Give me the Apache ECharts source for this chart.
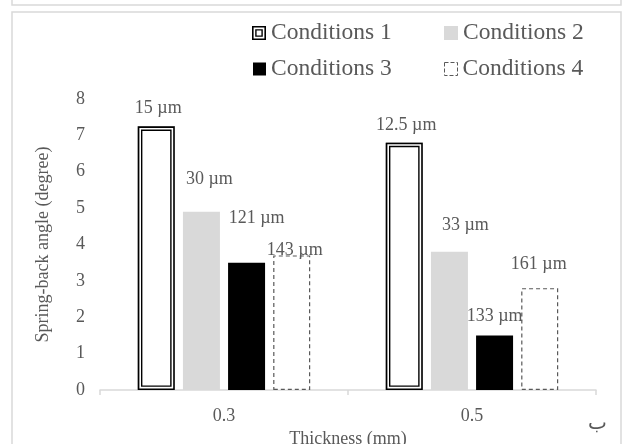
<!DOCTYPE html>
<html>
<head>
<meta charset="utf-8">
<script src="https://cdn.jsdelivr.net/npm/echarts@6/dist/echarts.min.js"></script>
<style>
html,body{margin:0;padding:0;background:#fff;}
#chart{width:624px;height:444px;}
</style>
</head>
<body>
<div id="chart"></div>
<script>
const categories = ['0.3', '0.5'];
const seriesNames = ['Conditions 1', 'Conditions 2', 'Conditions 3', 'Conditions 4'];
const cond1 = [7.25, 6.8];
const cond2 = [4.9, 3.8];
const cond3 = [3.5, 1.5];
const cond4 = [3.7, 2.8];
const cond1Labels = ['15 µm', '12.5 µm'];
const cond2Labels = ['30 µm', '33 µm'];
const cond3Labels = ['121 µm', '133 µm'];
const cond4Labels = ['143 µm', '161 µm'];
const yTicks = ['0', '1', '2', '3', '4', '5', '6', '7', '8'];

// label placement (style)
const labelOffsets = [
  [[2, -9], [2, -8]],
  [[8, -23], [16, -18]],
  [[10, -35], [0, -10]],
  [[3, 4], [-1, -15]]
];

const FONT = "'Liberation Serif', 'Times New Roman', serif";
const TXT = '#595959';
const AX = '#d9d9d9';

function makeData(vals, labels, si) {
  return vals.map((v, i) => ({
    value: v,
    label: {
      show: true, position: 'top', distance: 0,
      offset: labelOffsets[si][i], formatter: labels[i],
      fontFamily: FONT, fontSize: 18, color: TXT
    }
  }));
}

const chart = echarts.init(document.getElementById('chart'), null, {renderer: 'canvas'});

const dbl = 'path://M0,0H14V14H0Z M1.6,1.6V12.4H12.4V1.6Z M3.2,3.2H10.8V10.8H3.2Z M4.6,4.6V9.4H9.4V4.6Z';

function legendAt(name, left, top, icon, itemStyle, w, h) {
  return {
    data: [{name: name, icon: icon, itemStyle: itemStyle}],
    left: left, top: top, padding: 0,
    itemWidth: w, itemHeight: h,
    selectedMode: false,
    textStyle: {fontFamily: FONT, fontSize: 23.5, color: TXT}
  };
}

const barW = 37;
const gap = '22%';

const option = {
  animation: false,
  backgroundColor: '#fff',
  textStyle: {fontFamily: FONT},
  graphic: [
    {type: 'polyline', shape: {points: [[12, 0], [12, 5], [621, 5], [621, 0]]}, style: {stroke: AX, lineWidth: 1.5, fill: null}, silent: true},
    {type: 'rect', shape: {x: 12, y: 12, width: 609, height: 450}, style: {stroke: AX, lineWidth: 1.5, fill: null}, silent: true, z: -1},
    {type: 'text', left: 588, top: 414, style: {text: 'ب', font: "20px 'DejaVu Sans'", fill: TXT}, silent: true}
  ],
  legend: [
    legendAt(seriesNames[0], 252, 21, dbl, {color: '#000', borderWidth: 0}, 14, 14),
    legendAt(seriesNames[1], 444, 21, 'rect', {color: '#d9d9d9', borderWidth: 0}, 14, 14),
    legendAt(seriesNames[2], 253, 57, 'rect', {color: '#000', borderWidth: 0}, 13, 13),
    legendAt(seriesNames[3], 444, 57, 'rect', {color: '#fff', borderColor: '#595959', borderWidth: 1, borderType: 'dashed'}, 13, 13)
  ],
  grid: {left: 100, right: 28, top: 99, bottom: 54, containLabel: false, outerBoundsMode: 'none'},
  xAxis: [
    {
      type: 'category', data: categories,
      name: 'Thickness (mm)', nameLocation: 'middle', nameGap: 35,
      nameTextStyle: {fontFamily: FONT, fontSize: 18, color: TXT},
      axisLine: {lineStyle: {color: AX, width: 1.5}},
      axisTick: {show: true, length: 5, lineStyle: {color: AX, width: 1.5}},
      axisLabel: {fontFamily: FONT, fontSize: 18, color: TXT, margin: 17}
    },
    {type: 'category', data: categories, show: false},
    {type: 'category', data: categories, show: false}
  ],
  yAxis: {
    type: 'value', min: 0, max: 8, interval: 1,
    name: 'Spring-back angle (degree)', nameLocation: 'middle', nameGap: 48, nameRotate: 90,
    nameTextStyle: {fontFamily: FONT, fontSize: 18, color: TXT},
    axisLine: {show: false}, axisTick: {show: false}, splitLine: {show: false},
    axisLabel: {fontFamily: FONT, fontSize: 18, color: TXT, margin: 15,
      formatter: (v) => yTicks[v] !== undefined ? yTicks[v] : String(v)}
  },
  series: [
    {name: seriesNames[0], type: 'bar', xAxisIndex: 0, barWidth: barW, barGap: gap,
      data: makeData(cond1, cond1Labels, 0), itemStyle: {color: '#fff', borderColor: '#000', borderWidth: 4.6}},
    {name: seriesNames[1], type: 'bar', xAxisIndex: 0, barWidth: barW, barGap: gap,
      data: makeData(cond2, cond2Labels, 1), itemStyle: {color: '#d9d9d9'}},
    {name: seriesNames[2], type: 'bar', xAxisIndex: 0, barWidth: barW, barGap: gap,
      data: makeData(cond3, cond3Labels, 2), itemStyle: {color: '#000'}},
    {name: seriesNames[3], type: 'bar', xAxisIndex: 0, barWidth: barW, barGap: gap,
      data: makeData(cond4, cond4Labels, 3), itemStyle: {color: '#fff', borderColor: '#595959', borderWidth: 1.2, borderType: [4, 3]}},
    // overlays on hidden axes build the double outline of Conditions 1
    {name: 'c1-gap', type: 'bar', xAxisIndex: 1, barWidth: barW, barGap: gap, silent: true, z: 3,
      data: cond1, itemStyle: {color: 'rgba(0,0,0,0)', borderColor: '#fff', borderWidth: 3.2}},
    {name: 'p2a', type: 'bar', xAxisIndex: 1, barWidth: barW, barGap: gap, silent: true, data: cond2, itemStyle: {color: 'rgba(0,0,0,0)'}},
    {name: 'p3a', type: 'bar', xAxisIndex: 1, barWidth: barW, barGap: gap, silent: true, data: cond3, itemStyle: {color: 'rgba(0,0,0,0)'}},
    {name: 'p4a', type: 'bar', xAxisIndex: 1, barWidth: barW, barGap: gap, silent: true, data: cond4, itemStyle: {color: 'rgba(0,0,0,0)'}},
    {name: 'c1-outer', type: 'bar', xAxisIndex: 2, barWidth: barW, barGap: gap, silent: true, z: 4,
      data: cond1, itemStyle: {color: 'rgba(0,0,0,0)', borderColor: '#000', borderWidth: 1.6}},
    {name: 'p2b', type: 'bar', xAxisIndex: 2, barWidth: barW, barGap: gap, silent: true, data: cond2, itemStyle: {color: 'rgba(0,0,0,0)'}},
    {name: 'p3b', type: 'bar', xAxisIndex: 2, barWidth: barW, barGap: gap, silent: true, data: cond3, itemStyle: {color: 'rgba(0,0,0,0)'}},
    {name: 'p4b', type: 'bar', xAxisIndex: 2, barWidth: barW, barGap: gap, silent: true, data: cond4, itemStyle: {color: 'rgba(0,0,0,0)'}}
  ]
};
chart.setOption(option);
</script>
</body>
</html>
